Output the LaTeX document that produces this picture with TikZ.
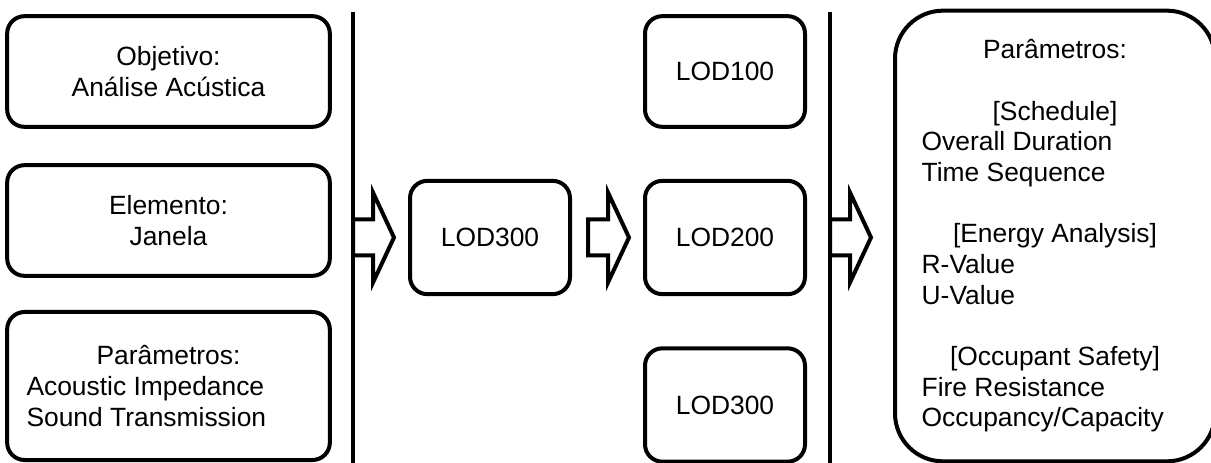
\documentclass[tikz,border=0pt]{standalone}
\usepackage{fontspec}
\setmainfont{Liberation Sans}
\usetikzlibrary{positioning}

% list lines, left aligned inside a centred block
\newcommand{\lpar}[1]{\makebox[213pt][l]{#1}}
\newcommand{\rpar}[1]{\makebox[200pt][l]{#1}}
% hollow block arrow, starting at the given coordinate
\newcommand{\fatarrow}[1]{%
  \draw[arrowbody] #1 ++(0,-18) -- ++(20,0) -- ++(0,-27) -- ++(21,45) -- ++(-21,45) -- ++(0,-27) -- ++(-20,0) -- cycle;}

\begin{document}
\begin{tikzpicture}[x=0.75pt, y=-0.75pt,
    font=\fontsize{19.8pt}{23pt}\selectfont,
    box/.style={draw, line width=3pt, rounded corners=13pt, align=center, inner sep=0pt},
    bigbox/.style={box, rounded corners=36pt},
    sepline/.style={line width=3pt},
    arrowbody/.style={line width=3pt, fill=white}]
	\useasboundingbox (0,0) rectangle (1211,463);
	% We start by placing the blocks
	\node [box, minimum width=242pt, minimum height=83pt] (objbox) at (168.5,71.5) {Objetivo:\\Análise Acústica};
	\node [box, minimum width=242pt, minimum height=83pt] (elembox) at (168.5,220.5) {Elemento:\\Janela};
	\node [box, minimum width=242pt, minimum height=111pt] (parbox) at (168.5,386) {Parâmetros:\\\lpar{Acoustic Impedance}\\\lpar{Sound Transmission}};
	\coordinate (lineltop) at (353,12);
	\coordinate (linelbot) at (353,463);
	\node [box, minimum width=120pt, minimum height=85pt] (lodin) at (490,237.5) {LOD300};
	\node [box, minimum width=120pt, minimum height=83pt] (lodhigh) at (725,71.5) {LOD100};
	\node [box, minimum width=120pt, minimum height=85pt] (lodmid) at (725,237.5) {LOD200};
	\node [box, minimum width=120pt, minimum height=85pt] (lodlow) at (725,405) {LOD300};
	\coordinate (linertop) at (830,12);
	\coordinate (linerbot) at (830,463);
	\node [bigbox, minimum width=240pt, minimum height=338pt] (parlist) at (1055,236) {Parâmetros:\\[23pt]
		[Schedule]\\\rpar{Overall Duration}\\\rpar{Time Sequence}\\[23pt]
		[Energy Analysis]\\\rpar{R-Value}\\\rpar{U-Value}\\[23pt]
		[Occupant Safety]\\\rpar{Fire Resistance}\\\rpar{Occupancy/Capacity}};
	% Once the nodes are placed, connecting them is easy.
	\draw [sepline] (lineltop) -- (linelbot);
	\draw [sepline] (linertop) -- (linerbot);
	\coordinate (arrowa) at (lineltop |- lodin);
	\coordinate [right=12pt of lodin.east] (arrowb);
	\coordinate (arrowc) at (linertop |- lodmid);
	\fatarrow{(arrowa)}
	\fatarrow{(arrowb)}
	\fatarrow{(arrowc)}
\end{tikzpicture}
\end{document}
